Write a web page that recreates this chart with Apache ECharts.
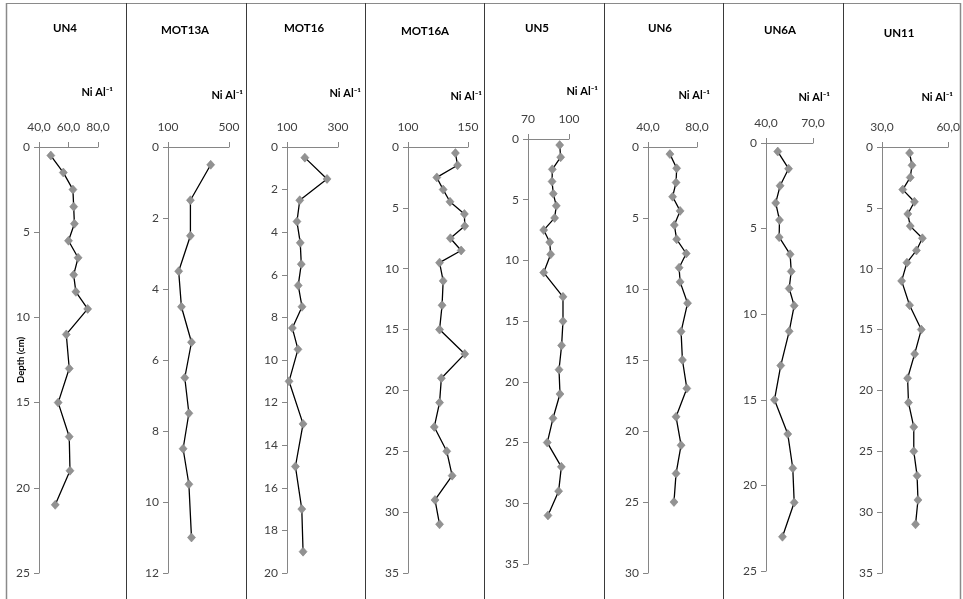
<!DOCTYPE html>
<html><head><meta charset="utf-8">
<script src="https://cdn.jsdelivr.net/npm/echarts@6/dist/echarts.min.js"></script>
<style>html,body{margin:0;padding:0;background:#fff}#c{width:963px;height:599px}</style>
</head><body><div id="c"></div>
<script>
// ---------- DATA ----------
const coreNames = ['UN4', 'MOT13A', 'MOT16', 'MOT16A', 'UN5', 'UN6', 'UN6A', 'UN11'];
const unitLabel = 'Ni Al⁻¹';
const depthAxisName = 'Depth (cm)';

const depthsUN4 = [0.5, 1.5, 2.5, 3.5, 4.5, 5.5, 6.5, 7.5, 8.5, 9.5, 11, 13, 15, 17, 19, 21];
const valuesUN4 = [48, 56.5, 63, 63.5, 64, 60, 66.5, 63.5, 65, 73, 58.5, 60.5, 53, 60.5, 61, 51];

const depthsMOT13A = [0.5, 1.5, 2.5, 3.5, 4.5, 5.5, 6.5, 7.5, 8.5, 9.5, 11];
const valuesMOT13A = [380, 247, 247, 170, 188, 254, 210, 237, 199, 237, 254];

const depthsMOT16 = [0.5, 1.5, 2.5, 3.5, 4.5, 5.5, 6.5, 7.5, 8.5, 9.5, 11, 13, 15, 17, 19];
const valuesMOT16 = [170, 257, 150, 139, 152, 156, 144, 159, 121, 143, 108, 163, 133, 158, 163];

const depthsMOT16A = [0.5, 1.5, 2.5, 3.5, 4.5, 5.5, 6.5, 7.5, 8.5, 9.5, 11, 13, 15, 17, 19, 21, 23, 25, 27, 29, 31];
const valuesMOT16A = [139.5, 141.3, 124, 129.3, 135, 147, 147.3, 135.3, 144.3, 126.3, 129.3, 128.4, 126.3, 147.3, 127.8, 126.3, 121.9, 132.3, 136.8, 122.5, 126.3];

const depthsUN5 = [0.5, 1.5, 2.5, 3.5, 4.5, 5.5, 6.5, 7.5, 8.5, 9.5, 11, 13, 15, 17, 19, 21, 23, 25, 27, 29, 31];
const valuesUN5 = [93.2, 93.9, 87.8, 87.6, 88.5, 90.7, 89.5, 81.5, 85.9, 86.6, 81.5, 95.6, 95.6, 94.6, 92.7, 93.4, 88.3, 84.1, 94.4, 92.4, 84.6];

const depthsUN6 = [0.5, 1.5, 2.5, 3.5, 4.5, 5.5, 6.5, 7.5, 8.5, 9.5, 11, 13, 15, 17, 19, 21, 23, 25];
const valuesUN6 = [57.9, 63.4, 62.9, 60.1, 66.2, 61.5, 63.4, 71.2, 65.4, 66.2, 72.3, 67, 68.1, 71.7, 62.9, 67, 62.9, 61.2];

const depthsUN6A = [0.5, 1.5, 2.5, 3.5, 4.5, 5.5, 6.5, 7.5, 8.5, 9.5, 11, 13, 15, 17, 19, 21, 23];
const valuesUN6A = [47.5, 54.4, 49, 46.2, 48.6, 48.4, 55.4, 56.1, 54.8, 58, 54.8, 49.4, 45.4, 53.9, 57.1, 58, 50.5];

const depthsUN11 = [0.5, 1.5, 2.5, 3.5, 4.5, 5.5, 6.5, 7.5, 8.5, 9.5, 11, 13, 15, 17, 19, 21, 23, 25, 27, 29, 31];
const valuesUN11 = [42.5, 43.6, 42.8, 39.4, 44.7, 41.7, 42.8, 48.3, 45.6, 41.3, 38.9, 42.5, 47.8, 44.8, 41.6, 42, 44.4, 44.4, 45.9, 46.3, 45.2];

// x-axis (top) tick values and their labels
const xTicksUN4 = [40, 60, 80];     const xLabelsUN4 = ['40,0', '60,0', '80,0'];
const xTicksMOT13A = [100, 500];    const xLabelsMOT13A = ['100', '500'];
const xTicksMOT16 = [100, 300];     const xLabelsMOT16 = ['100', '300'];
const xTicksMOT16A = [100, 150];    const xLabelsMOT16A = ['100', '150'];
const xTicksUN5 = [70, 100];        const xLabelsUN5 = ['70', '100'];
const xTicksUN6 = [40, 80];         const xLabelsUN6 = ['40,0', '80,0'];
const xTicksUN6A = [40, 70];        const xLabelsUN6A = ['40,0', '70,0'];
const xTicksUN11 = [30, 60];        const xLabelsUN11 = ['30,0', '60,0'];

// depth-axis ticks
const yTicksUN4 = [0, 5, 10, 15, 20, 25];
const yTicksMOT13A = [0, 2, 4, 6, 8, 10, 12];
const yTicksMOT16 = [0, 2, 4, 6, 8, 10, 12, 14, 16, 18, 20];
const yTicksMOT16A = [0, 5, 10, 15, 20, 25, 30, 35];
const yTicksUN5 = [0, 5, 10, 15, 20, 25, 30, 35];
const yTicksUN6 = [0, 5, 10, 15, 20, 25, 30];
const yTicksUN6A = [0, 5, 10, 15, 20, 25];
const yTicksUN11 = [0, 5, 10, 15, 20, 25, 30, 35];

// ---------- ASSEMBLY ----------
const panels = [
  {d: depthsUN4, v: valuesUN4, xt: xTicksUN4, xl: xLabelsUN4, yt: yTicksUN4},
  {d: depthsMOT13A, v: valuesMOT13A, xt: xTicksMOT13A, xl: xLabelsMOT13A, yt: yTicksMOT13A},
  {d: depthsMOT16, v: valuesMOT16, xt: xTicksMOT16, xl: xLabelsMOT16, yt: yTicksMOT16},
  {d: depthsMOT16A, v: valuesMOT16A, xt: xTicksMOT16A, xl: xLabelsMOT16A, yt: yTicksMOT16A},
  {d: depthsUN5, v: valuesUN5, xt: xTicksUN5, xl: xLabelsUN5, yt: yTicksUN5},
  {d: depthsUN6, v: valuesUN6, xt: xTicksUN6, xl: xLabelsUN6, yt: yTicksUN6},
  {d: depthsUN6A, v: valuesUN6A, xt: xTicksUN6A, xl: xLabelsUN6A, yt: yTicksUN6A},
  {d: depthsUN11, v: valuesUN11, xt: xTicksUN11, xl: xLabelsUN11, yt: yTicksUN11}
];

// layout (pixels)
const layout = [
  {left: 39,  top: 147, width: 59, height: 426, tx: 65,  ty: 28, ux: 113, uy: 92},
  {left: 168, top: 147, width: 61, height: 426, tx: 185, ty: 30, ux: 243, uy: 95},
  {left: 287, top: 147, width: 51, height: 426, tx: 304, ty: 28, ux: 361, uy: 93},
  {left: 408, top: 147, width: 60, height: 426, tx: 425, ty: 31, ux: 482, uy: 96},
  {left: 528, top: 139, width: 41, height: 425, tx: 537, ty: 28, ux: 598, uy: 91},
  {left: 648, top: 147, width: 49, height: 426, tx: 660, ty: 28, ux: 710, uy: 95},
  {left: 766, top: 143, width: 47, height: 428, tx: 780, ty: 30, ux: 830, uy: 97},
  {left: 882, top: 147, width: 68, height: 426, tx: 899, ty: 33, ux: 953, uy: 97}
];
const dividers = [126, 246, 365, 484, 604, 723, 843];

const FONT = 'Lato, "Open Sans", sans-serif';
const AXIS_COLOR = '#868686';
const LABEL_COLOR = '#404040';

const grid = [], xAxis = [], yAxis = [], series = [], graphic = [];

panels.forEach((p, i) => {
  const L = layout[i];
  grid.push({left: L.left, top: L.top, width: L.width, height: L.height, containLabel: false});
  xAxis.push({
    type: 'value', gridIndex: i, position: 'top',
    min: p.xt[0], max: p.xt[p.xt.length - 1],
    axisLine: {show: true, lineStyle: {color: AXIS_COLOR, width: 1}},
    axisTick: {show: true, inside: false, length: 5, customValues: p.xt, lineStyle: {color: AXIS_COLOR}},
    axisLabel: {
      show: true, margin: 14, customValues: p.xt,
      color: LABEL_COLOR, fontSize: 12, fontFamily: FONT,
      formatter: (val) => { const k = p.xt.indexOf(val); return k >= 0 ? p.xl[k] : ''; }
    },
    splitLine: {show: false}
  });
  const yStep = p.yt[1] - p.yt[0];
  yAxis.push({
    type: 'value', gridIndex: i, inverse: true,
    min: p.yt[0], max: p.yt[p.yt.length - 1], interval: yStep,
    axisLine: {show: true, lineStyle: {color: AXIS_COLOR, width: 1}},
    axisTick: {show: true, inside: false, length: 5, lineStyle: {color: AXIS_COLOR}},
    axisLabel: {show: true, margin: 9, color: LABEL_COLOR, fontSize: 12, fontFamily: FONT},
    splitLine: {show: false}
  });
  series.push({
    type: 'line', xAxisIndex: i, yAxisIndex: i,
    data: p.d.map((dep, k) => [p.v[k], dep]),
    symbol: 'diamond', symbolSize: [8, 9],
    itemStyle: {color: '#929292', borderColor: '#7a7a7a', borderWidth: 0.5},
    lineStyle: {color: '#000', width: 1.3},
    emphasis: {disabled: true},
    z: 3
  });
  graphic.push({
    type: 'text', x: L.tx, y: L.ty,
    style: {text: coreNames[i], align: 'center', verticalAlign: 'middle',
            font: 'bold 11.5px ' + FONT, fill: '#000'}
  });
  graphic.push({
    type: 'text', x: L.ux, y: L.uy,
    style: {text: unitLabel, align: 'right', verticalAlign: 'middle',
            font: 'bold 11px ' + FONT, fill: '#000'}
  });
});

// depth axis title (first panel)
graphic.push({
  type: 'text', x: 21, y: 360, rotation: Math.PI / 2,
  style: {text: depthAxisName, align: 'center', verticalAlign: 'middle',
          font: 'bold 9.5px ' + FONT, fill: '#000'}
});

// frame
graphic.push({type: 'line', shape: {x1: 6, y1: 3.5, x2: 960, y2: 3.5}, style: {stroke: '#8a8a8a', lineWidth: 1}});
graphic.push({type: 'line', shape: {x1: 6.5, y1: 3, x2: 6.5, y2: 599}, style: {stroke: '#8a8a8a', lineWidth: 1.5}});
graphic.push({type: 'line', shape: {x1: 960.5, y1: 3, x2: 960.5, y2: 599}, style: {stroke: '#8a8a8a', lineWidth: 1.5}});
dividers.forEach(x => {
  graphic.push({type: 'line', shape: {x1: x + 0.5, y1: 3, x2: x + 0.5, y2: 599}, style: {stroke: '#3a3a3a', lineWidth: 1}});
});

const chart = echarts.init(document.getElementById('c'), null, {renderer: 'canvas'});
chart.setOption({
  animation: false,
  backgroundColor: '#fff',
  grid, xAxis, yAxis, series, graphic
});
</script></body></html>
